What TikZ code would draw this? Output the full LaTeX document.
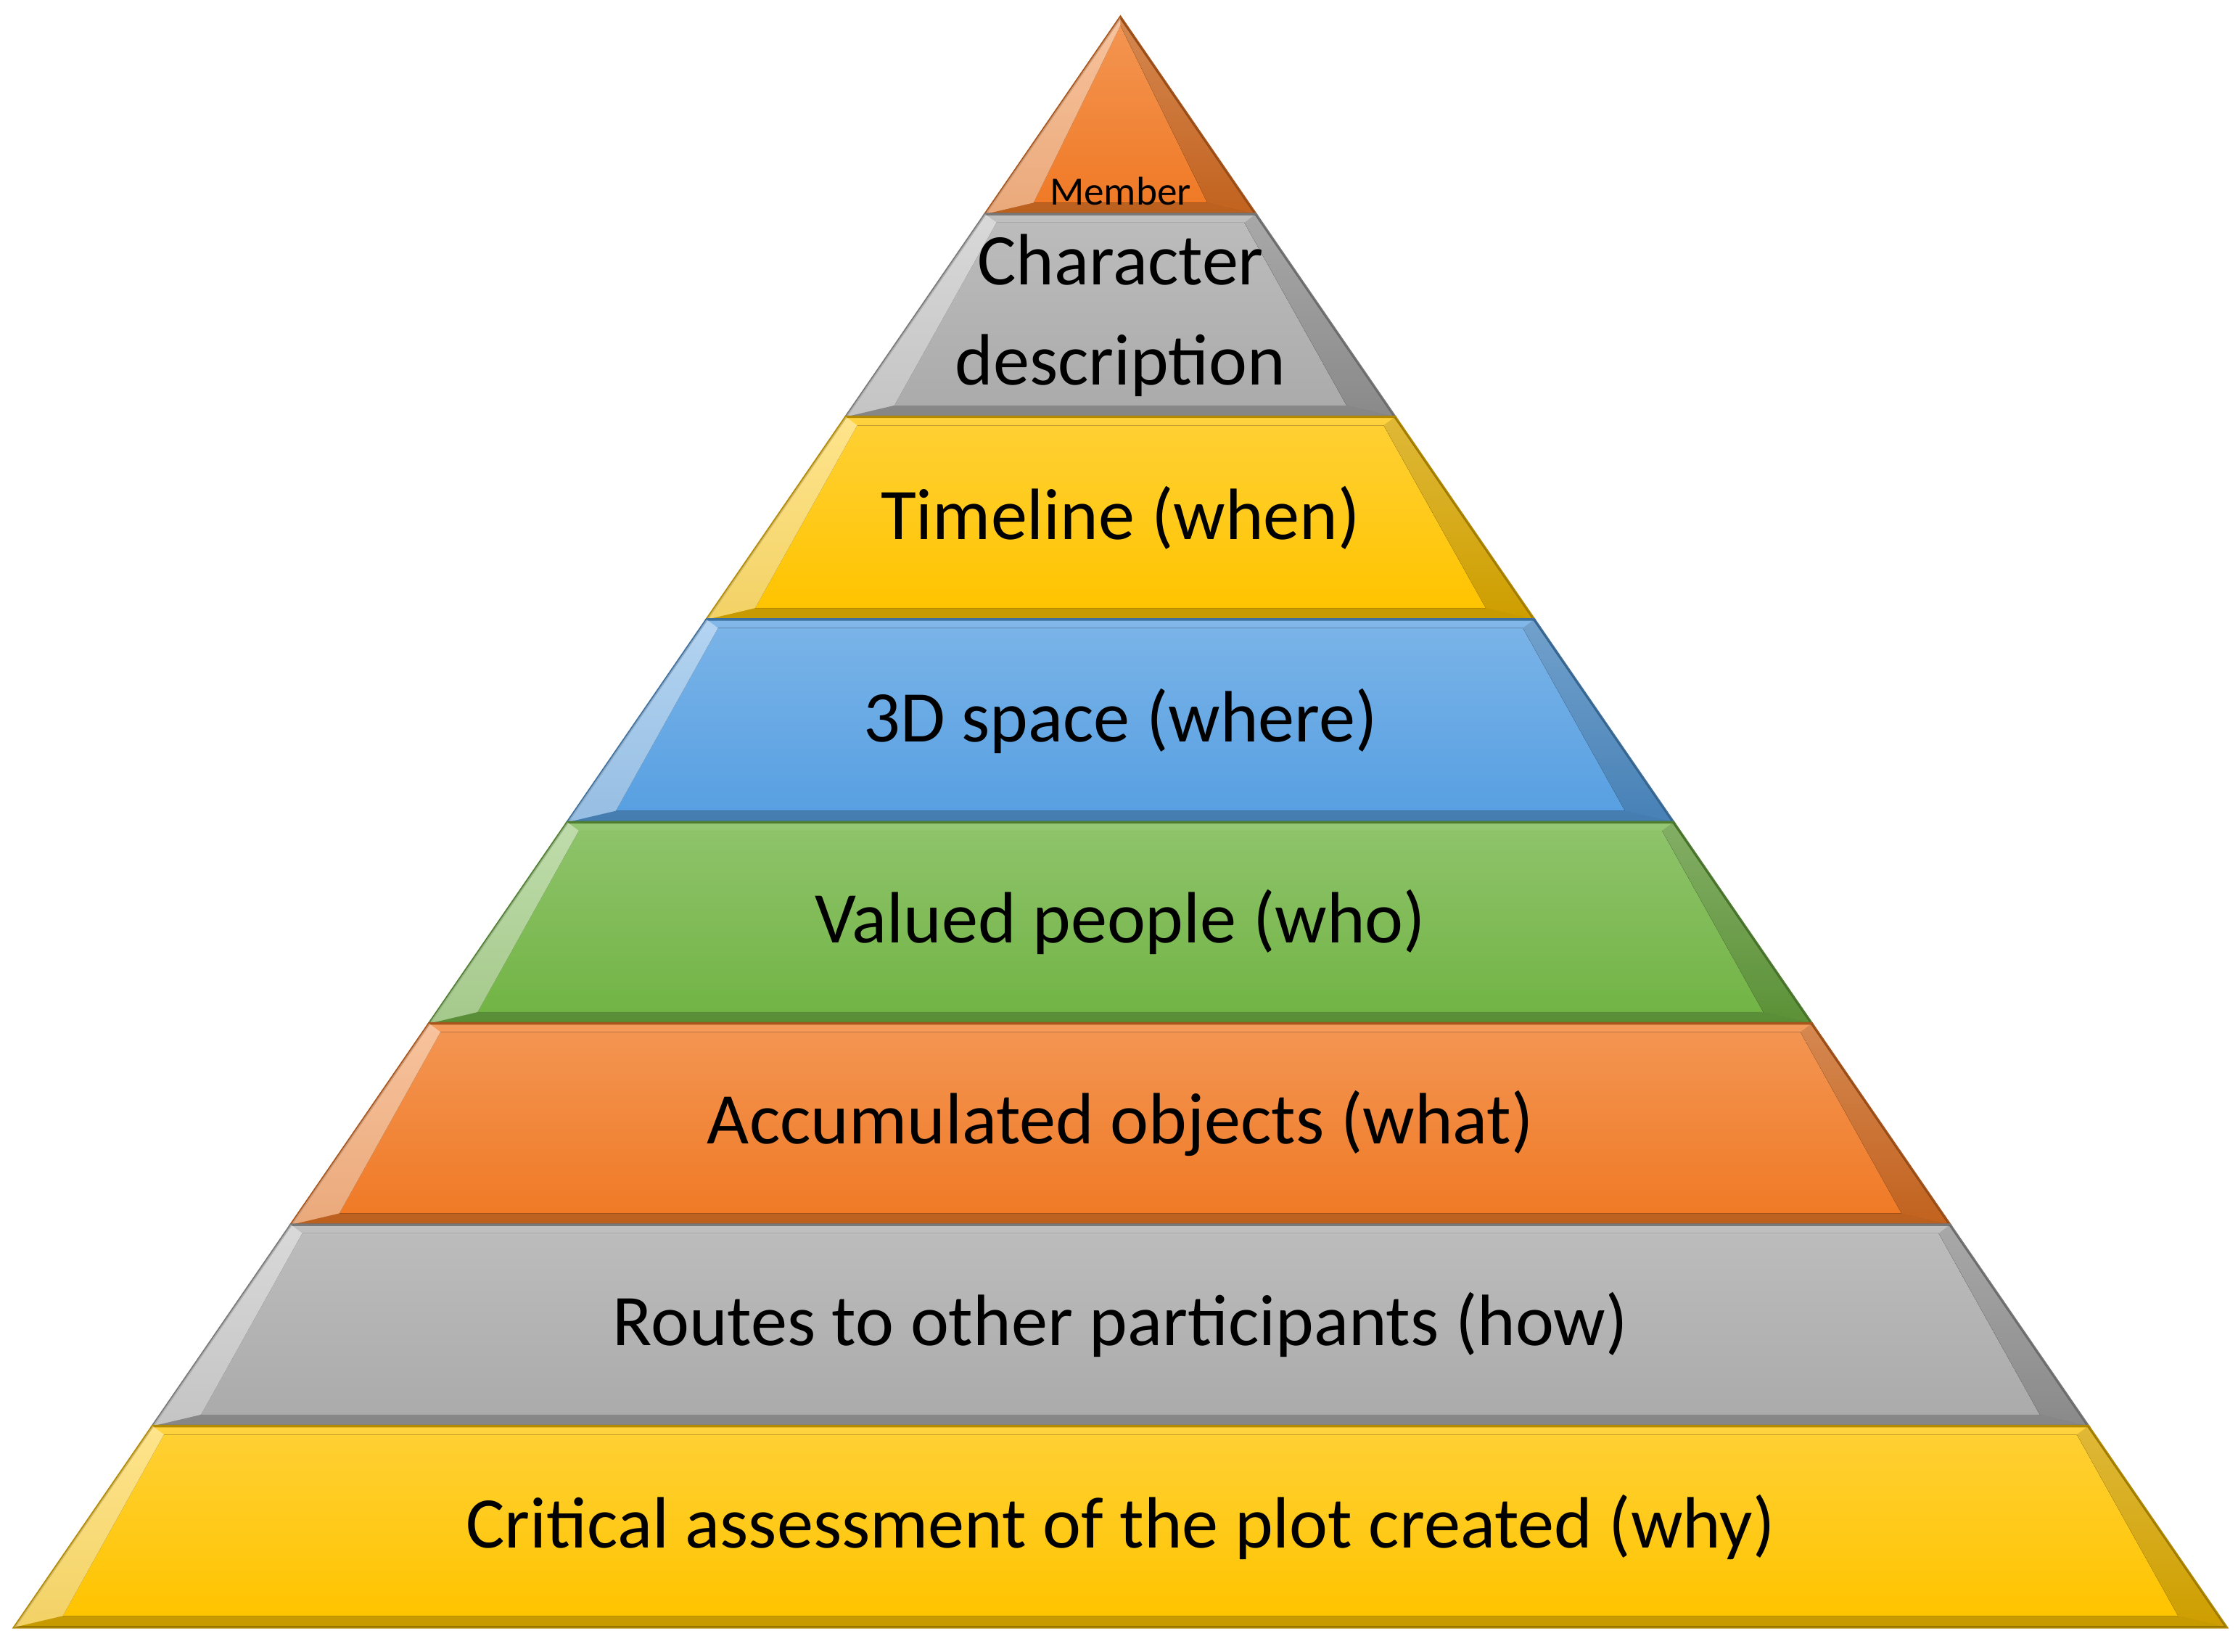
\documentclass[tikz,border=0pt]{standalone}
\usepackage{fontspec}
\setmainfont{Carlito}
\begin{document}
\begin{tikzpicture}[x=0.02cm,y=-0.02cm,
  lbl/.style={font=\fontsize{29}{33}\selectfont,align=center,text=black}]
\useasboundingbox (0,0) rectangle (1568,1157);
\definecolor{cOr}{HTML}{F07A26}\definecolor{cGr}{HTML}{ABABAB}
\definecolor{cGo}{HTML}{FFC400}\definecolor{cBl}{HTML}{58A0E2}
\definecolor{cGn}{HTML}{72B445}
\foreach \ta/\tb/\c/\n in {12/150/cOr/l1,150/292/cGr/l2,292/434/cGo/l3,434/576/cBl/l4,576/717/cGn/l5,717/858/cOr/l6,858/999/cGr/l7,999/1140/cGo/l8}{
  \pgfmathsetmacro\ha{0.687*(\ta-12)}
  \pgfmathsetmacro\hb{0.687*(\tb-12)}
  \pgfmathsetmacro\hai{max(0,\ha-8)}
  \pgfmathsetmacro\hbi{\hb-34}
  \fill[top color=\c!75!white,bottom color=\c!92!black,draw=\c!70!black,line width=1pt]
    (785-\ha,\ta) -- (785+\ha,\ta) -- (785+\hb,\tb) -- (785-\hb,\tb) -- cycle;
  \fill[top color=\c!80!white,bottom color=\c]
    (785-\hai,\ta+6) -- (785+\hai,\ta+6) -- (785+\hbi,\tb-8) -- (785-\hbi,\tb-8) -- cycle;
  \fill[white,opacity=0.4] (785-\ha,\ta) -- (785-\hai,\ta+6) -- (785-\hbi,\tb-8) -- (785-\hb,\tb) -- cycle;
  \fill[black,opacity=0.12] (785+\ha,\ta) -- (785+\hai,\ta+6) -- (785+\hbi,\tb-8) -- (785+\hb,\tb) -- cycle;
  \fill[black,opacity=0.15] (785-\hb,\tb) -- (785-\hbi,\tb-8) -- (785+\hbi,\tb-8) -- (785+\hb,\tb) -- cycle;
}
\node[font=\fontsize{16}{18}\selectfont] (t1) at (785,134) {Member};
\node[lbl,font=\fontsize{29}{40}\selectfont] (t2) at (785,221) {Character\\description};
\node[lbl] (t3) at (785,363) {Timeline (when)};
\node[lbl] (t4) at (785,505) {3D space (where)};
\node[lbl] (t5) at (785,646) {Valued people (who)};
\node[lbl] (t6) at (785,787) {Accumulated objects (what)};
\node[lbl] (t7) at (785,928) {Routes to other participants (how)};
\node[lbl] (t8) at (785,1070) {Critical assessment of the plot created (why)};
\end{tikzpicture}
\end{document}
